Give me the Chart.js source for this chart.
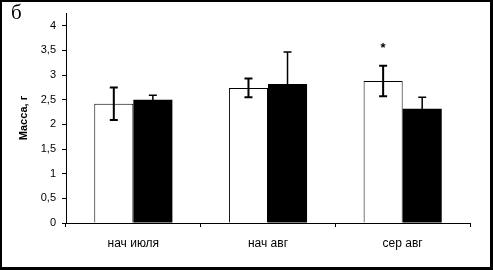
<!DOCTYPE html>
<html>
<head>
<meta charset="utf-8">
<script src="https://cdn.jsdelivr.net/npm/chart.js@4.4.0/dist/chart.umd.min.js"></script>
<style>
body { margin: 0; background: #fff; }
#cadre { position: relative; width: 493px; height: 270px; background: #fff; }
#bord { position: absolute; left: 0; top: 0; right: 0; bottom: 0; border-style: solid; border-color: #000; border-width: 2px 3px 3px 2px; pointer-events: none; }
#lettre { position: absolute; left: 11px; top: 2px; font-family: "Liberation Serif", "DejaVu Serif", serif; font-size: 21px; line-height: 21px; color: #000; }
</style>
</head>
<body>
<div id="cadre">
  <canvas id="graphique" width="493" height="270"></canvas>
  <div id="lettre">б</div>
  <div id="bord"></div>
</div>
<script>
// donnees
var categories = ['нач июля', 'нач авг', 'сер авг'];
var blanc = [2.42, 2.74, 2.88];
var blancErr = [0.33, 0.19, 0.31];
var noir = [2.50, 2.82, 2.32];
var noirErr = [0.09, 0.65, 0.23];
var etoiles = ['', '', '*'];
var yLabels = ['0', '0,5', '1', '1,5', '2', '2,5', '3', '3,5', '4'];

var police = "'Liberation Sans', Arial, sans-serif";

// barres d'erreur + asterisque
var erreurs = {
    id: 'erreurs',
    afterDatasetsDraw: function(chart) {
        var ctx = chart.ctx;
        var y = chart.scales.y;
        var series = [[blanc, blancErr, 2], [noir, noirErr, 1.5]];
        ctx.save();
        ctx.strokeStyle = '#000';
        series.forEach(function(s, i) {
            var meta = chart.getDatasetMeta(i);
            meta.data.forEach(function(bar, j) {
                var haut = y.getPixelForValue(s[0][j] + s[1][j]);
                var bas = y.getPixelForValue(s[0][j] - s[1][j]);
                ctx.lineWidth = s[2];
                ctx.beginPath();
                ctx.moveTo(bar.x, haut);
                ctx.lineTo(bar.x, bas);
                ctx.moveTo(bar.x - 4, haut);
                ctx.lineTo(bar.x + 4, haut);
                ctx.moveTo(bar.x - 4, bas);
                ctx.lineTo(bar.x + 4, bas);
                ctx.stroke();
                if (i == 0 && etoiles[j]) {
                    ctx.fillStyle = '#000';
                    ctx.font = 'bold 13px ' + police;
                    ctx.textAlign = 'center';
                    ctx.textBaseline = 'middle';
                    ctx.fillText(etoiles[j], bar.x, haut - 17);
                }
            });
        });
        ctx.restore();
    }
};

var ctx1 = document.getElementById('graphique').getContext('2d');
var graphique = new Chart(ctx1, {
    type: 'bar',
    data: {
        labels: categories,
        datasets: [{
            data: blanc,
            backgroundColor: '#fff',
            borderColor: '#000',
            borderWidth: 1
        }, {
            data: noir,
            backgroundColor: '#000',
            borderColor: '#000',
            borderWidth: 0
        }]
    },
    options: {
        responsive: false,
        animation: false,
        categoryPercentage: 0.58,
        barPercentage: 1.0,
        layout: { padding: { left: 0, right: 23, top: 13, bottom: 0 } },
        plugins: { legend: { display: false }, tooltip: { enabled: false } },
        scales: {
            x: {
                offset: true,
                afterFit: function(scale) { scale.height = 47; },
                grid: { display: true, offset: true, drawOnChartArea: false, tickLength: 4, color: '#000' },
                border: { color: '#000', width: 1 },
                ticks: { color: '#000', padding: 9, font: { family: police, size: 12 } }
            },
            y: {
                min: 0,
                max: 4.26,
                afterFit: function(scale) { scale.width = 66; },
                afterBuildTicks: function(scale) {
                    scale.ticks = scale.ticks.filter(function(t) { return t.value <= 4; });
                },
                grid: { display: true, drawOnChartArea: false, tickLength: 4, color: '#000' },
                border: { color: '#000', width: 1 },
                ticks: {
                    stepSize: 0.5,
                    color: '#000',
                    padding: 6,
                    font: { family: police, size: 11 },
                    callback: function(v, i) { return yLabels[i]; }
                },
                title: {
                    display: true,
                    text: 'Масса, г',
                    color: '#000',
                    padding: { top: 17 },
                    font: { family: police, size: 11, weight: 'bold' }
                }
            }
        }
    },
    plugins: [erreurs]
});
</script>
</body>
</html>
